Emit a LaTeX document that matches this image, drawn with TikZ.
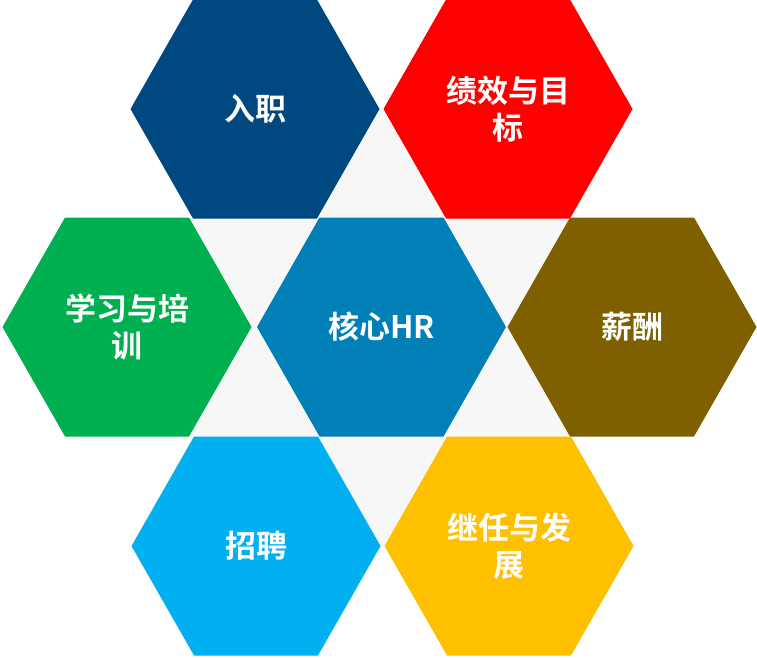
\documentclass[tikz,border=0pt]{standalone}
\usepackage{fontspec}
\newfontfamily\cjk{Noto Sans CJK SC Bold}
\begin{document}
\begin{tikzpicture}[x=1pt,y=-1pt,
  hexlabel/.style={text=white,font=\cjk\fontsize{31}{37}\selectfont,align=center}]
\useasboundingbox (0,0) rectangle (757,658);
\definecolor{cA}{RGB}{0,73,128}
\definecolor{cB}{RGB}{255,0,0}
\definecolor{cC}{RGB}{0,176,80}
\definecolor{cD}{RGB}{0,128,183}
\definecolor{cE}{RGB}{127,96,0}
\definecolor{cF}{RGB}{0,176,240}
\definecolor{cG}{RGB}{255,192,0}
\fill[gray!6] (255,109) -- (508,109) -- (632,327) -- (509,546) -- (256,546) -- (127,327) -- cycle;
\newcommand{\hexat}[4]{%
  \fill[#3] (#1-124.5,#2) -- (#1-62,#2-109.5) -- (#1+62,#2-109.5) -- (#1+124.5,#2) -- (#1+62,#2+109.5) -- (#1-62,#2+109.5) -- cycle;
  \node[hexlabel] (#4) at (#1,#2) {};}
\hexat{255}{109}{cA}{a}
\hexat{508}{109}{cB}{b}
\hexat{127}{327}{cC}{c}
\hexat{381.5}{327}{cD}{d}
\hexat{632}{327}{cE}{e}
\hexat{256}{546}{cF}{f}
\hexat{509}{546}{cG}{g}
\node[hexlabel] (ta) at (255,109) {入职};
\node[hexlabel] (tb) at (508,109) {绩效与目\\标};
\node[hexlabel] (tc) at (127,327) {学习与培\\训};
\node[hexlabel] (td) at (381.5,327) {核心HR};
\node[hexlabel] (te) at (632,327) {薪酬};
\node[hexlabel] (tf) at (256,546) {招聘};
\node[hexlabel] (tg) at (509,546) {继任与发\\展};
\end{tikzpicture}
\end{document}
